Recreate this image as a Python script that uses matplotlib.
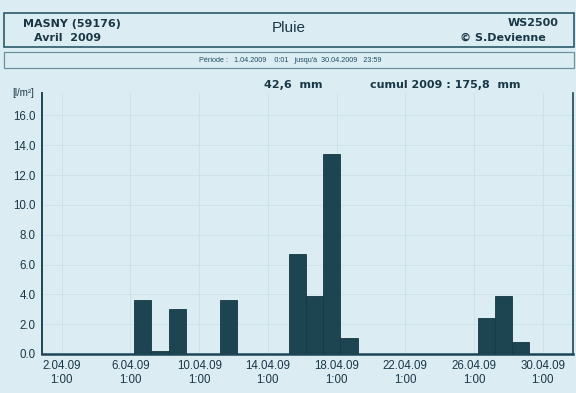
import numpy as np
import matplotlib
matplotlib.use("Agg")
import matplotlib.pyplot as plt
from matplotlib.patches import Rectangle

# pluie journaliere, avril 2009 (l/m2)
jours = [6, 7, 8, 11, 15, 16, 17, 18, 26, 27, 28]
pluie = [3.6, 0.2, 3.0, 3.6, 6.7, 3.9, 13.4, 1.1, 2.4, 3.9, 0.8]
tick_jours = [2, 6, 10, 14, 18, 22, 26, 30]
tick_labels = ["%d.04.09\n1:00" % j for j in tick_jours]
y_ticks = np.arange(0, 17, 2)

fond = "#dbedf3"
barre = "#1d4451"
texte = "#1a3746"

W, H = 576, 393
fig = plt.figure(figsize=(W / 100, H / 100), dpi=100, facecolor=fond)

def fx(px):
    return px / W

def fy(py):
    return 1 - py / H

# cadres d'en-tete
fig.patches.append(Rectangle((fx(4), fy(47.3)), fx(569.7), 34.6 / H, transform=fig.transFigure,
                             fill=False, edgecolor="#2c5a6a", linewidth=1.2))
fig.patches.append(Rectangle((fx(4), fy(68.3)), fx(569.7), 16.6 / H, transform=fig.transFigure,
                             fill=False, edgecolor="#6f919c", linewidth=0.9))

bold = dict(family="DejaVu Sans", fontweight="bold", color=texte, fontsize=8, va="center")
fig.text(fx(22.7), fy(24), "MASNY (59176)", ha="left", **bold)
fig.text(fx(34), fy(38), "Avril  2009", ha="left", **bold)
fig.text(fx(558.7), fy(23.5), "WS2500", ha="right", **bold)
fig.text(fx(546), fy(37.5), "© S.Devienne", ha="right", **bold)
fig.text(fx(289), fy(28), "Pluie", ha="center", va="center", family="Liberation Sans",
         fontsize=11, color=texte)
fig.text(fx(290), fy(60.5), "Période :   1.04.2009    0:01   jusqu'à  30.04.2009   23:59",
         ha="center", va="center", family="Liberation Sans", fontsize=5.2, color="#1f4d63")
fig.text(fx(264), fy(85), "42,6  mm", ha="left", **bold)
fig.text(fx(370), fy(85), "cumul 2009 : 175,8  mm", ha="left", **bold)
fig.text(fx(12.7), fy(93), "[l/m²]", ha="left", va="center", family="Liberation Sans",
         fontsize=7, color=texte)

ax = fig.add_axes([fx(42), 39 / H, fx(531), 261 / H])
ax.set_facecolor(fond)
ax.bar(np.array(jours) + 0.22, pluie, width=1.0, align="edge", color=barre,
       edgecolor="#163843", linewidth=0.6, zorder=3)

ax.set_xlim(0.85, 31.76)
ax.set_ylim(0, 17.5)
ax.set_xticks(tick_jours)
ax.set_xticklabels(tick_labels, family="Liberation Sans", fontsize=8.3, color=texte,
                   linespacing=1.15)
ax.set_yticks(y_ticks)
ax.set_yticklabels(["%.1f" % v for v in y_ticks], family="Liberation Sans", fontsize=8.3,
                   color=texte)
ax.tick_params(length=0, pad=4.5)
ax.grid(True, color="#cde3ea", linewidth=0.7, zorder=0)
ax.set_axisbelow(True)

ax.spines["top"].set_visible(False)
ax.spines["left"].set_color("#1e4656")
ax.spines["left"].set_linewidth(1.4)
ax.spines["right"].set_color("#1e4656")
ax.spines["right"].set_linewidth(1.2)
ax.spines["bottom"].set_color("#1e4656")
ax.spines["bottom"].set_linewidth(1.8)

fig.savefig("out.png", dpi=100, facecolor=fond)
